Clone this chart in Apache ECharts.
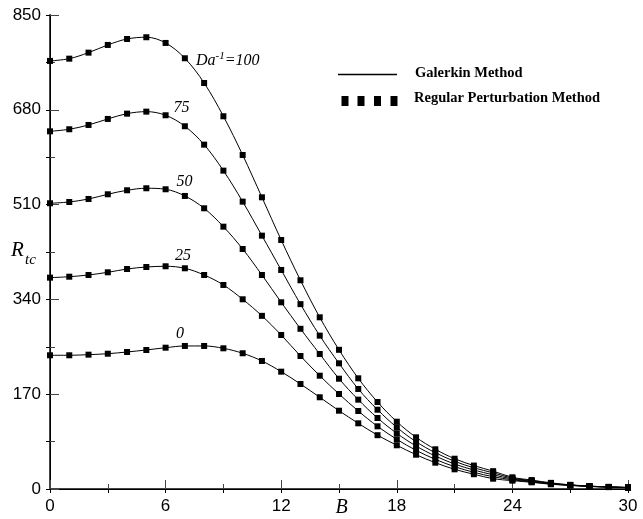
<!DOCTYPE html>
<html><head><meta charset="utf-8">
<script src="https://cdn.jsdelivr.net/npm/echarts@6/dist/echarts.min.js"></script>
<style>html,body{margin:0;padding:0;background:#fff}#c{width:643px;height:519px}</style>
</head><body><div id="c"></div>
<script>
const B = [0,1,2,3,4,5,6,7,8,9,10,11,12,13,14,15,16,17,18,19,20,21,22,23,24,25,26,27,28,29,30];
const da100 = [767.6,771.7,782.5,796.3,807.0,810.1,799.9,772.4,728.1,668.4,599.0,523.1,446.5,374.3,307.9,249.6,198.5,156.0,120.7,92.7,71.2,54.3,42.0,32.0,21.0,16.0,11.0,7.5,5.2,3.8,2.8];
const da75  = [641.4,645.1,652.8,663.6,673.1,676.7,670.2,650.5,617.5,570.9,515.3,454.3,392.8,331.5,275.0,225.4,179.4,142.2,110.6,84.8,65.1,49.7,38.0,29.0,19.5,15.0,10.3,7.2,5.0,3.7,2.7];
const da50  = [512.4,514.7,520.1,528.5,535.7,539.3,537.5,525.5,503.4,470.4,430.4,383.8,334.8,287.3,242.1,197.8,160.2,127.3,99.9,77.1,59.2,44.8,34.0,25.5,18.0,14.0,9.6,7.0,4.9,3.6,2.6];
const da25  = [379.0,380.7,383.8,388.6,394.5,398.1,399.4,395.8,383.8,365.9,340.2,310.5,276.2,238.5,203.2,170.4,139.9,112.4,89.1,69.4,53.2,40.0,30.0,22.0,16.5,13.0,9.0,6.7,4.7,3.5,2.5];
const da0   = [239.8,239.8,240.9,242.6,245.7,249.3,253.4,256.5,256.5,252.3,243.4,229.6,210.4,188.3,164.5,140.4,117.8,96.5,78.4,61.5,47.2,35.3,26.5,18.5,15.0,12.0,8.5,6.4,4.5,3.4,2.4];
const xTicks = [0,6,12,18,24,30];
const yTicks = [0,170,340,510,680,850];
const curveLabels = ['100','75','50','25','0'];

const chart = echarts.init(document.getElementById('c'), null, {renderer:'canvas'});
const allSeries = [da100, da75, da50, da25, da0];
const tickFont = {fontFamily:'Liberation Sans', fontSize:17, color:'#000'};
const serif = 'Liberation Serif';

chart.setOption({
  animation:false,
  backgroundColor:'#fff',
  grid:{left:50, right:15, top:15, bottom:30, containLabel:false, outerBoundsMode:'none'},
  xAxis:[{
    type:'value', min:xTicks[0], max:xTicks[xTicks.length-1], interval:6, position:'bottom',
    axisLine:{lineStyle:{color:'#444', width:2}},
    axisTick:{inside:true, length:9, lineStyle:{color:'#444', width:1}},
    minorTick:{show:true, splitNumber:2, length:5, lineStyle:{color:'#444', width:1}},
    splitLine:{show:false}, minorSplitLine:{show:false},
    axisLabel:Object.assign({margin:9}, tickFont)
  },{
    type:'value', min:0, max:30, interval:6, position:'top',
    axisLine:{lineStyle:{color:'#000', width:1}},
    axisTick:{inside:true, length:4, lineStyle:{color:'#000'}},
    minorTick:{show:true, splitNumber:2, length:4, lineStyle:{color:'#000'}},
    splitLine:{show:false}, axisLabel:{show:false}
  }],
  yAxis:[{
    type:'value', min:yTicks[0], max:yTicks[yTicks.length-1], interval:170, position:'left',
    axisLine:{lineStyle:{color:'#444', width:2}},
    axisTick:{inside:true, length:9, lineStyle:{color:'#444', width:1}},
    minorTick:{show:true, splitNumber:2, length:5, lineStyle:{color:'#444', width:1}},
    splitLine:{show:false}, minorSplitLine:{show:false},
    axisLabel:Object.assign({margin:9}, tickFont)
  },{
    type:'value', min:0, max:850, interval:170, position:'right',
    axisLine:{lineStyle:{color:'#000', width:1}},
    axisTick:{inside:true, length:4, lineStyle:{color:'#000'}},
    minorTick:{show:true, splitNumber:2, length:4, lineStyle:{color:'#000'}},
    splitLine:{show:false}, axisLabel:{show:false}
  }],
  series: allSeries.map((arr, k) => ({
    type:'line', name:'Da'+curveLabels[k], xAxisIndex:0, yAxisIndex:0,
    data: B.map((b,i)=>[b, arr[i]]),
    smooth:0.35, symbol:'rect', symbolSize:6, showAllSymbol:true,
    lineStyle:{color:'#000', width:1}, itemStyle:{color:'#000'}, z:3
  })),
  graphic:[
    {type:'text', left:196, top:51, style:{text:'{a|Da}{b|-1}{a|=100}', rich:{
      a:{fontFamily:serif, fontStyle:'italic', fontSize:16, color:'#000', verticalAlign:'bottom', lineHeight:18},
      b:{fontFamily:serif, fontStyle:'italic', fontSize:11, color:'#000', verticalAlign:'top', lineHeight:18}}}},
    {type:'text', x:181.5, y:108, style:{text:'75', font:'italic 16px Liberation Serif', fill:'#000', align:'center', verticalAlign:'middle'}},
    {type:'text', x:184.5, y:182, style:{text:'50', font:'italic 16px Liberation Serif', fill:'#000', align:'center', verticalAlign:'middle'}},
    {type:'text', x:183, y:256, style:{text:'25', font:'italic 16px Liberation Serif', fill:'#000', align:'center', verticalAlign:'middle'}},
    {type:'text', x:180, y:334, style:{text:'0', font:'italic 16px Liberation Serif', fill:'#000', align:'center', verticalAlign:'middle'}},
    {type:'text', x:11, y:250, style:{text:'R', font:'italic 21px Liberation Serif', fill:'#000', align:'left', verticalAlign:'middle'}},
    {type:'text', x:25, y:260, style:{text:'tc', font:'italic 15px Liberation Serif', fill:'#000', align:'left', verticalAlign:'middle'}},
    {type:'text', x:341.5, y:508, style:{text:'B', font:'italic 20px Liberation Serif', fill:'#000', align:'center', verticalAlign:'middle'}},
    {type:'line', shape:{x1:338, y1:74.5, x2:397, y2:74.5}, style:{stroke:'#000', lineWidth:1.3}},
    {type:'text', x:415, y:73, style:{text:'Galerkin Method', font:'bold 14.5px Liberation Serif', fill:'#000', align:'left', verticalAlign:'middle'}},
    {type:'rect', shape:{x:341.5, y:96, width:7, height:10}, style:{fill:'#000'}},
    {type:'rect', shape:{x:357.5, y:96, width:7, height:10}, style:{fill:'#000'}},
    {type:'rect', shape:{x:374, y:96, width:7, height:10}, style:{fill:'#000'}},
    {type:'rect', shape:{x:390.5, y:96, width:7, height:10}, style:{fill:'#000'}},
    {type:'text', x:414, y:98, style:{text:'Regular Perturbation Method', font:'bold 14.5px Liberation Serif', fill:'#000', align:'left', verticalAlign:'middle'}}
  ]
});
</script></body></html>
